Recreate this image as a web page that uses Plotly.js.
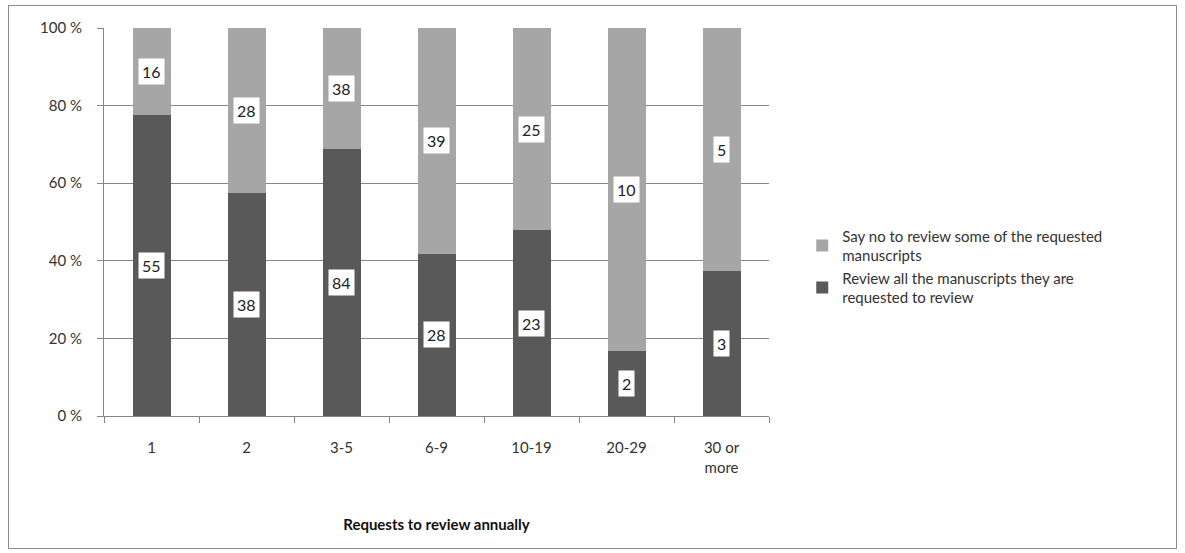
<!DOCTYPE html>
<html>
<head>
<meta charset="utf-8">
<script src="https://cdn.plot.ly/plotly-3.0.1.min.js"></script>
<style>
  html, body { margin: 0; padding: 0; background: #fff; }
  #wrap { position: relative; width: 1185px; height: 553px; }
  #chart { position: absolute; left: 0; top: 0; width: 1185px; height: 553px; }
  #frame { position: absolute; left: 8px; top: 5px; width: 1167px; height: 542px; border: 1px solid #8c8c8c; pointer-events: none; }
</style>
</head>
<body>
<div id="wrap">
  <div id="chart"></div>
  <div id="frame"></div>
</div>
<script>
const categories = ["1", "2", "3-5", "6-9", "10-19", "20-29", "30 or<br>more"];
const reviewAll = [55, 38, 84, 28, 23, 2, 3];
const sayNo = [16, 28, 38, 39, 25, 10, 5];
const yTickVals = [0, 20, 40, 60, 80, 100];
const yTickText = ["0 %", "20 %", "40 %", "60 %", "80 %", "100 %"];
const reviewAllName = "Review all the manuscripts they are<br>requested to review";
const sayNoName = "Say no to review some of the requested<br>manuscripts";

const font = "Lato, Open Sans, sans-serif";

const traces = [
  {
    type: "bar", x: categories, y: reviewAll, name: reviewAllName,
    marker: { color: "#595959" }, width: 0.4, hoverinfo: "skip"
  },
  {
    type: "bar", x: categories, y: sayNo, name: sayNoName,
    marker: { color: "#a6a6a6" }, width: 0.4, hoverinfo: "skip"
  }
];

// Labels centred on each segment, computed from data
const annotations = [];
categories.forEach((c, i) => {
  const total = reviewAll[i] + sayNo[i];
  const pA = reviewAll[i] / total * 100;
  const pB = sayNo[i] / total * 100;
  annotations.push({ x: i, y: pA / 2, xref: "x", yref: "y", text: String(reviewAll[i]),
    showarrow: false, bgcolor: "#ffffff", borderpad: 3, font: { family: font, size: 16, color: "#222" } });
  annotations.push({ x: i, y: pA + pB / 2, xref: "x", yref: "y", text: String(sayNo[i]),
    showarrow: false, bgcolor: "#ffffff", borderpad: 3, font: { family: font, size: 16, color: "#222" } });
});

const layout = {
  width: 1185, height: 553,
  margin: { l: 104, r: 416, t: 28, b: 137 },
  paper_bgcolor: "rgba(0,0,0,0)", plot_bgcolor: "#ffffff",
  barmode: "stack", barnorm: "percent",
  font: { family: font, size: 15, color: "#333" },
  showlegend: true,
  legend: {
    x: 1.05, y: 0.385, xanchor: "left", yanchor: "middle",
    font: { family: font, size: 15, color: "#333" },
    traceorder: "reversed", tracegroupgap: 14, itemwidth: 30
  },
  xaxis: {
    type: "category",
    showline: true, linecolor: "#868686", linewidth: 1,
    ticks: "outside", tickson: "boundaries", ticklen: 6, tickcolor: "#868686",
    ticklabelstandoff: 18,
    tickfont: { family: font, size: 15, color: "#333" },
    showgrid: false,
    title: { text: "<b>Requests to review annually</b>", font: { family: font, size: 15, color: "#111" }, standoff: 44 }
  },
  yaxis: {
    range: [0, 100], tickmode: "array", tickvals: yTickVals, ticktext: yTickText,
    showline: true, linecolor: "#868686", linewidth: 1,
    ticks: "outside", ticklen: 6, tickcolor: "#868686",
    ticklabelstandoff: 12,
    showgrid: true, gridcolor: "#868686", gridwidth: 1,
    zeroline: false,
    tickfont: { family: font, size: 15, color: "#333" }
  },
  annotations: annotations
};

Plotly.newPlot("chart", traces, layout, { staticPlot: true, displayModeBar: false });
</script>
</body>
</html>
